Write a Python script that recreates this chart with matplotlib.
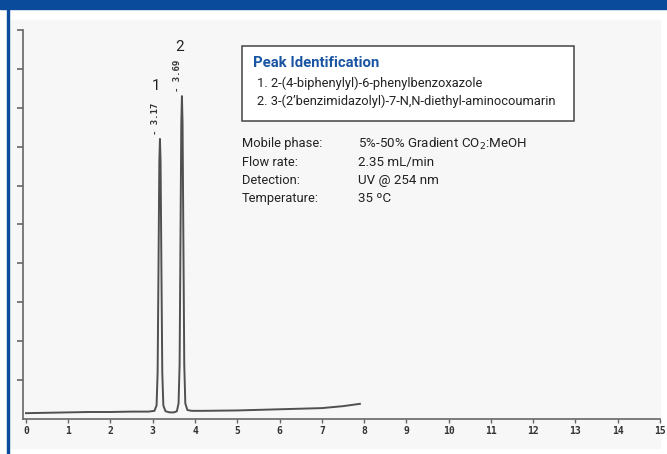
import matplotlib
matplotlib.use("Agg")
import matplotlib.pyplot as plt
from matplotlib.patches import Rectangle

W, H = 667, 454

# chromatogram trace (time in min, signal in y-tick units)
t_min = [0.0, 0.5, 1.0, 1.5, 2.0, 2.5, 2.9, 3.04, 3.09, 3.115, 3.135, 3.155, 3.17,
         3.185, 3.205, 3.225, 3.25, 3.30, 3.40, 3.50, 3.57, 3.61, 3.635, 3.655,
         3.675, 3.69, 3.705, 3.725, 3.745, 3.77, 3.82, 3.92, 4.2, 5.0, 6.0, 7.0,
         7.5, 7.9]
signal = [0.15, 0.16, 0.17, 0.18, 0.18, 0.19, 0.19, 0.21, 0.35, 1.2, 3.8, 6.6, 7.2,
          6.6, 3.8, 1.2, 0.35, 0.2, 0.17, 0.17, 0.2, 0.4, 1.4, 4.5, 7.6, 8.3,
          7.6, 4.5, 1.4, 0.4, 0.23, 0.21, 0.21, 0.22, 0.25, 0.28, 0.33, 0.39]

peak_ids = ["1", "2"]
peak_rt = [3.17, 3.69]
peak_top = [7.2, 8.3]

x_ticks = list(range(0, 16))
y_ticks = list(range(1, 11))

peak_title = "Peak Identification"
peak_names = ["1. 2-(4-biphenylyl)-6-phenylbenzoxazole",
              "2. 3-(2\u2019benzimidazolyl)-7-N,N-diethyl-aminocoumarin"]
cond_labels = ["Mobile phase:", "Flow rate:", "Detection:", "Temperature:"]
cond_values = ["5%-50% Gradient CO$_2$:MeOH", "2.35 mL/min", "UV @ 254 nm", "35 \u00baC"]

BLUE = "#0b4b9b"
INK = "#505050"
FONT = ["Roboto", "DejaVu Sans"]


def fx(px):
    return px / W


def fy(py):
    return 1 - py / H


fig = plt.figure(figsize=(W / 100, H / 100), dpi=100)
fig.patch.set_facecolor("white")

# frame: light grey panel, blue header strip and left rule
fig.patches.append(Rectangle((fx(10), fy(448)), fx(650), 428 / H,
                             transform=fig.transFigure, color="#f7f7f7", zorder=-2))
fig.patches.append(Rectangle((0, fy(9)), 1, 9 / H, transform=fig.transFigure,
                             color=BLUE, zorder=-1))
fig.patches.append(Rectangle((fx(7), 0), 2 / W, fy(9), transform=fig.transFigure,
                             color=BLUE, zorder=-1))

ax = fig.add_axes([fx(23), fy(419), 637 / W, 389 / H])
ax.set_zorder(1)
ax.patch.set_alpha(0)
ax.plot(t_min, signal, color=INK, lw=1.4, solid_joinstyle="round")
ax.set_xlim(-0.07, 15)
ax.set_ylim(0, 10)
for s in ["top", "right"]:
    ax.spines[s].set_visible(False)
for s in ["left", "bottom"]:
    ax.spines[s].set_color("#666666")
    ax.spines[s].set_linewidth(1.2)
ax.set_xticks(x_ticks)
ax.set_xticklabels([str(v) for v in x_ticks], fontsize=7, fontweight="bold",
                   family="DejaVu Sans Mono", color="#333333")
ax.set_yticks(y_ticks)
ax.set_yticklabels([])
ax.tick_params(axis="x", direction="out", length=3, width=1, color="#666666", pad=2)
ax.tick_params(axis="y", direction="out", length=4, width=1.2, color="#666666")

# peak numbers and retention-time labels
for rt, top in zip(peak_rt, peak_top):
    ax.annotate("- " + f"{rt:.2f}", (rt, top), xytext=(-3, 3),
                textcoords="offset points", rotation=90, ha="center", va="bottom",
                fontsize=6.5, fontweight="bold", family="DejaVu Sans Mono", color="#333333")
ax.annotate(peak_ids[0], (peak_rt[0], peak_top[0]), xytext=(-3, 33),
            textcoords="offset points", ha="center", va="bottom", fontsize=11,
            family=FONT, color="#222222")
ax.annotate(peak_ids[1], (peak_rt[1], peak_top[1]), xytext=(-2, 30),
            textcoords="offset points", ha="center", va="bottom", fontsize=11,
            family=FONT, color="#222222")

# peak identification box
fig.patches.append(Rectangle((fx(242), fy(121)), (574 - 242) / W, (121 - 46) / H,
                             transform=fig.transFigure, facecolor="white",
                             edgecolor="#444444", lw=1.1, zorder=2))
fig.text(fx(253), fy(63), peak_title, fontsize=10.7, fontweight="bold", color="#1a55a3",
         family=FONT, va="center", zorder=3)
for i, name in enumerate(peak_names):
    fig.text(fx(257), fy(83 + 18 * i), name, fontsize=9.3, color="#222222",
             family=FONT, va="center", zorder=3)

# run conditions
for i, (lab, val) in enumerate(zip(cond_labels, cond_values)):
    fig.text(fx(242), fy(144 + 18.2 * i), lab, fontsize=9.3, color="#222222",
             family=FONT, va="center", zorder=3)
    fig.text(fx(358), fy(144 + 18.2 * i), val, fontsize=9.6, color="#222222",
             family=FONT, va="center", zorder=3)

fig.savefig("out.png", dpi=100)
